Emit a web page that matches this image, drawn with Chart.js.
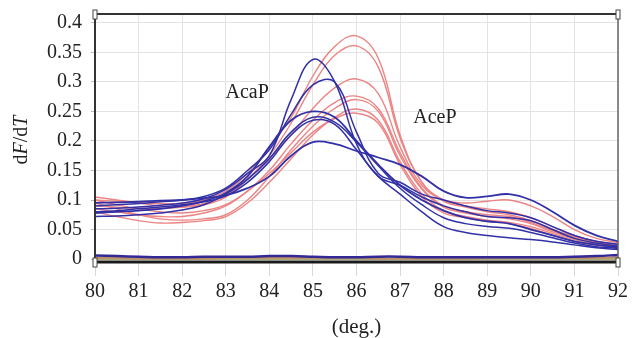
<!DOCTYPE html>
<html>
<head>
<meta charset="utf-8">
<script src="https://cdn.jsdelivr.net/npm/chart.js@4"></script>
<style>
  html, body { margin: 0; padding: 0; background: #fff; }
  #wrap { width: 637px; height: 338px; }
</style>
</head>
<body>
<div id="wrap"><canvas id="myChart" width="637" height="338"></canvas></div>
<script>
// temperature steps (deg.)
const temps = [80, 80.5, 81, 81.5, 82, 82.5, 83, 83.5, 84, 84.5, 85, 85.5, 86,
               86.5, 87, 87.5, 88, 88.5, 89, 89.5, 90, 90.5, 91, 91.5, 92];

// AcaP melt curves (blue)
const acaP1 = [0.085,0.086,0.088,0.091,0.095,0.102,0.118,0.145,0.175,0.27,0.338,0.3,0.195,0.14,0.125,0.105,0.09,0.08,0.072,0.07,0.065,0.05,0.035,0.027,0.022];
const acaP2 = [0.09,0.092,0.094,0.097,0.1,0.106,0.12,0.15,0.185,0.245,0.295,0.3,0.215,0.145,0.13,0.11,0.1,0.09,0.082,0.078,0.07,0.055,0.04,0.03,0.025];
const acaP3 = [0.078,0.08,0.082,0.085,0.09,0.098,0.112,0.14,0.19,0.235,0.25,0.24,0.2,0.16,0.125,0.1,0.082,0.07,0.064,0.06,0.05,0.04,0.03,0.024,0.02];
const acaP4 = [0.072,0.073,0.075,0.078,0.083,0.092,0.11,0.135,0.17,0.215,0.24,0.232,0.198,0.158,0.12,0.092,0.07,0.06,0.055,0.052,0.045,0.036,0.027,0.021,0.018];
const acaP5 = [0.095,0.096,0.097,0.099,0.1,0.103,0.108,0.12,0.14,0.175,0.198,0.195,0.183,0.172,0.16,0.14,0.115,0.104,0.106,0.11,0.1,0.08,0.057,0.04,0.03];
const acaP6 = [0.08,0.082,0.085,0.088,0.092,0.097,0.107,0.13,0.165,0.21,0.235,0.228,0.185,0.14,0.11,0.08,0.055,0.045,0.04,0.036,0.033,0.029,0.024,0.019,0.016];

// AceP melt curves (pink)
const aceP1 = [0.1,0.098,0.096,0.094,0.094,0.1,0.115,0.145,0.19,0.24,0.31,0.36,0.378,0.34,0.21,0.13,0.1,0.09,0.085,0.08,0.07,0.055,0.04,0.03,0.025];
const aceP2 = [0.105,0.1,0.095,0.09,0.088,0.092,0.105,0.135,0.175,0.23,0.295,0.345,0.361,0.325,0.205,0.13,0.098,0.088,0.08,0.075,0.065,0.05,0.038,0.03,0.024];
const aceP3 = [0.09,0.088,0.086,0.086,0.088,0.094,0.108,0.135,0.17,0.21,0.255,0.29,0.305,0.28,0.19,0.125,0.1,0.095,0.098,0.1,0.09,0.072,0.05,0.035,0.028];
const aceP4 = [0.085,0.08,0.075,0.072,0.072,0.078,0.09,0.115,0.15,0.195,0.235,0.265,0.276,0.255,0.18,0.12,0.09,0.08,0.075,0.072,0.062,0.048,0.036,0.028,0.022];
const aceP5 = [0.095,0.085,0.075,0.068,0.066,0.068,0.075,0.1,0.14,0.185,0.225,0.255,0.27,0.25,0.175,0.118,0.088,0.078,0.072,0.068,0.06,0.046,0.035,0.027,0.021];
const aceP6 = [0.08,0.072,0.065,0.061,0.062,0.065,0.072,0.095,0.13,0.17,0.21,0.24,0.254,0.235,0.165,0.11,0.082,0.072,0.066,0.062,0.055,0.043,0.033,0.025,0.02];
const aceP7 = [0.1,0.092,0.085,0.08,0.078,0.082,0.092,0.115,0.145,0.18,0.215,0.238,0.247,0.23,0.16,0.105,0.078,0.07,0.064,0.06,0.052,0.04,0.03,0.024,0.018];

// no-template controls, flat near zero
const ntc1 = [0.006,0.005,0.004,0.003,0.003,0.004,0.004,0.004,0.005,0.005,0.004,0.003,0.003,0.004,0.004,0.003,0.003,0.003,0.003,0.003,0.003,0.003,0.004,0.005,0.007];
const ntc2 = [0.002,0.002,0.001,0.001,0.001,0.001,0.002,0.002,0.002,0.002,0.002,0.002,0.002,0.001,0.001,0.001,0.001,0.001,0.002,0.002,0.002,0.002,0.002,0.002,0.003];
const ntc3 = [0,0,0,0,0,0,0,0,0,0,0,0,0,0,0,0,0,0,0,0,0,0,0,0,0];

const yTicks = [0, 0.05, 0.1, 0.15, 0.2, 0.25, 0.3, 0.35, 0.4];

const SERIF = '"Liberation Serif", "DejaVu Serif", serif';
const BLUE = 'rgb(50,48,166)';
const PINK = 'rgb(236,132,132)';

function series(vals, color, width) {
  return {
    data: vals.map((v, i) => ({ x: temps[i], y: v })),
    borderColor: color,
    borderWidth: width,
    pointRadius: 0,
    tension: 0.4,
    fill: false
  };
}

const datasets = [
  series(acaP1, BLUE, 1.5),
  series(acaP2, BLUE, 1.5),
  series(acaP3, BLUE, 1.8),
  series(acaP4, BLUE, 1.5),
  series(acaP5, BLUE, 1.8),
  series(acaP6, BLUE, 1.5),
  series(aceP1, PINK, 1.4),
  series(aceP2, PINK, 1.4),
  series(aceP3, PINK, 1.4),
  series(aceP4, PINK, 1.4),
  series(aceP5, PINK, 1.4),
  series(aceP6, PINK, 1.4),
  series(aceP7, PINK, 1.4),
  series(ntc1, 'rgb(50,40,150)', 2.5),
  series(ntc2, 'rgb(190,140,100)', 2),
  series(ntc3, 'rgb(150,150,80)', 1.5)
];

// frame, corner handles, labels and the y title
const decor = {
  id: 'decor',
  afterDatasetsDraw(chart) {
    const { ctx, chartArea: a, scales } = chart;
    ctx.save();
    ctx.strokeStyle = '#1a1a1a';
    ctx.lineWidth = 3;
    ctx.beginPath(); ctx.moveTo(a.left, a.bottom); ctx.lineTo(a.right, a.bottom); ctx.stroke();
    ctx.strokeStyle = '#333';
    ctx.lineWidth = 2;
    ctx.beginPath(); ctx.moveTo(a.left, a.top); ctx.lineTo(a.right, a.top); ctx.stroke();
    ctx.beginPath(); ctx.moveTo(a.left, a.top); ctx.lineTo(a.left, a.bottom); ctx.stroke();
    ctx.strokeStyle = '#666';
    ctx.lineWidth = 1.5;
    ctx.beginPath(); ctx.moveTo(a.right, a.top); ctx.lineTo(a.right, a.bottom); ctx.stroke();

    ctx.fillStyle = '#fff';
    ctx.strokeStyle = '#444';
    ctx.lineWidth = 1;
    [[a.left, a.top], [a.right, a.top], [a.left, a.bottom], [a.right, a.bottom]].forEach(p => {
      ctx.fillRect(p[0] - 2, p[1] - 4, 4, 9);
      ctx.strokeRect(p[0] - 2, p[1] - 4, 4, 9);
    });

    ctx.fillStyle = '#222';
    ctx.font = '20px ' + SERIF;
    ctx.textAlign = 'center';
    ctx.textBaseline = 'middle';
    ctx.fillText('AcaP', scales.x.getPixelForValue(83.49), scales.y.getPixelForValue(0.281));
    ctx.fillText('AceP', scales.x.getPixelForValue(87.8), scales.y.getPixelForValue(0.239));

    // dF/dT with italic F and T
    const parts = [['d', ''], ['F', 'italic '], ['/d', ''], ['T', 'italic ']];
    ctx.translate(22, 140);
    ctx.rotate(-Math.PI / 2);
    let w = 0;
    parts.forEach(p => { ctx.font = p[1] + '20px ' + SERIF; w += ctx.measureText(p[0]).width; });
    let x = -w / 2;
    ctx.textAlign = 'left';
    parts.forEach(p => {
      ctx.font = p[1] + '20px ' + SERIF;
      ctx.fillText(p[0], x, 0);
      x += ctx.measureText(p[0]).width;
    });
    ctx.restore();
  }
};

new Chart(document.getElementById('myChart'), {
  type: 'line',
  data: { datasets: datasets },
  options: {
    responsive: false,
    animation: false,
    events: [],
    layout: { padding: { top: 14, right: 19, left: 0, bottom: 0 } },
    plugins: { legend: { display: false }, tooltip: { enabled: false } },
    scales: {
      x: {
        type: 'linear',
        min: 80,
        max: 92,
        afterFit: s => { s.height = 76; },
        border: { display: false },
        grid: { color: '#e3e3e3', tickLength: 14, tickColor: '#d8d8d8' },
        ticks: { stepSize: 1, padding: 4, color: '#222', font: { family: SERIF, size: 20 } },
        title: { display: true, text: '(deg.)', color: '#222', padding: 0,
                 font: { family: SERIF, size: 21, lineHeight: 1 } }
      },
      y: {
        min: -0.005,
        max: 0.415,
        afterFit: s => { s.width = 95; s.paddingTop = 0; s.paddingBottom = 0; },
        afterBuildTicks: s => { s.ticks = yTicks.map(v => ({ value: v })); },
        border: { display: false },
        grid: { color: '#e3e3e3', tickLength: 4, tickColor: '#bbb' },
        ticks: { padding: 9, color: '#222', font: { family: SERIF, size: 20 },
                 callback: v => String(+v.toFixed(2)) }
      }
    }
  },
  plugins: [decor]
});
</script>
</body>
</html>
